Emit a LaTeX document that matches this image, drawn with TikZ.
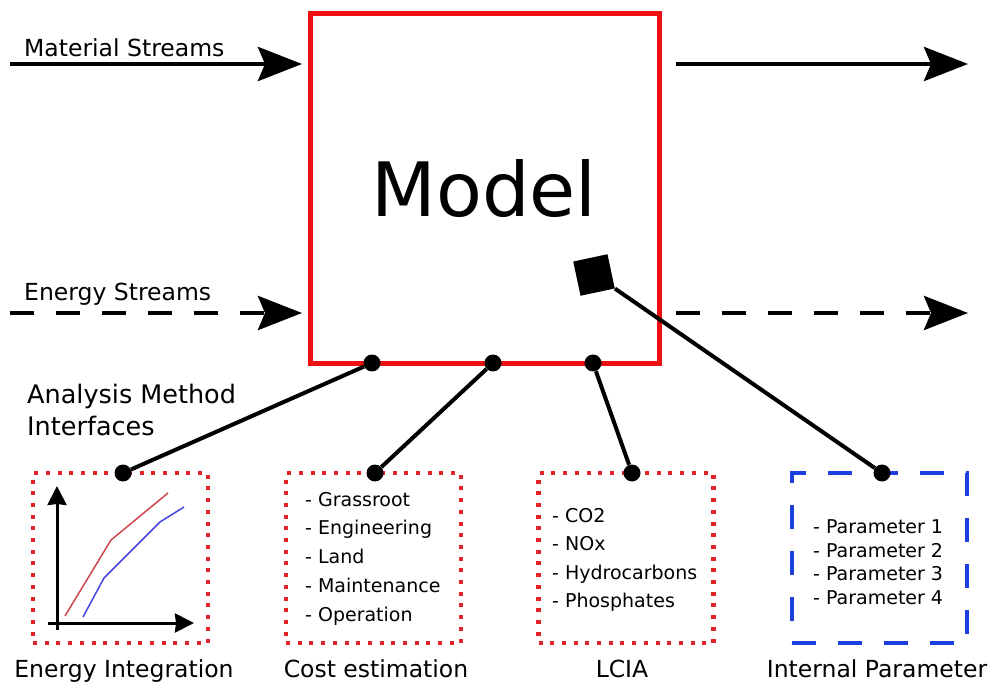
\documentclass[tikz,border=0pt]{standalone}
\usepackage{fontspec}
\setmainfont{DejaVu Sans}
\usetikzlibrary{arrows.meta}
\definecolor{modelred}{RGB}{236,16,16}
\definecolor{dotred}{RGB}{226,36,42}
\definecolor{parblue}{RGB}{28,64,222}
\definecolor{curvered}{RGB}{205,70,80}
\definecolor{curveblue}{RGB}{70,70,225}

\begin{document}
\begin{tikzpicture}[x=1pt,y=-1pt,
  flow/.style={line width=4.5pt,-{Stealth[length=44pt,width=34pt,inset=7pt]}},
  flowdash/.style={flow,dash pattern=on 24pt off 22pt},
  modelbox/.style={draw=modelred,line width=5pt,minimum width=349pt,minimum height=350pt,inner sep=0pt},
  dotbox/.style={draw=dotred,line width=4.5pt,dash pattern=on 4pt off 7.7pt,minimum width=175pt,minimum height=170pt,inner sep=0pt},
  parbox/.style={draw=parblue,line width=4pt,dash pattern=on 24pt off 22pt,minimum width=175pt,minimum height=170pt,inner sep=0pt},
  pin/.style={circle,fill=black,inner sep=0pt,minimum size=17pt},
  link/.style={line width=4pt},
  axis/.style={line width=3pt,-{Stealth[length=19pt,width=19pt,inset=1pt]}},
  curve/.style={line width=1.5pt},
  lbl/.style={inner sep=0pt,font=\fontsize{23.5}{27}\selectfont},
  item/.style={anchor=base west,inner sep=0pt,font=\fontsize{19}{22}\selectfont}
]
\useasboundingbox (0,0) rectangle (993,684);

% central model block
\node[modelbox] (model) at (484.5,188.5) {};
\node[anchor=base,inner sep=0pt,font=\fontsize{75}{80}\selectfont] (mtitle) at (484,217) {Model};

% material and energy streams
\coordinate (msin) at (10,64);
\coordinate (msend) at (302,64);
\coordinate (msout) at (676,64);
\coordinate (msoutend) at (968,64);
\coordinate (esin) at (10,313);
\coordinate (esend) at (302,313);
\coordinate (esout) at (676,313);
\coordinate (esoutend) at (968,313);
\draw[flow] (msin) -- (msend);
\draw[flow] (msout) -- (msoutend);
\draw[flowdash] (esin) -- (esend);
\draw[flowdash] (esout) -- (esoutend);
\node[lbl,anchor=base west] (mslbl) at (24,57) {Material Streams};
\node[lbl,anchor=base west] (eslbl) at (24,301) {Energy Streams};

\node[anchor=base west,inner sep=0pt,font=\fontsize{25.5}{32}\selectfont] (ami1) at (27,403) {Analysis Method};
\node[anchor=base west,inner sep=0pt,font=\fontsize{25.5}{32}\selectfont] (ami2) at (27,435) {Interfaces};

% interface pins on the model
\node[pin] (m1) at (372,363) {};
\node[pin] (m2) at (493,363) {};
\node[pin] (m3) at (593,363) {};
\node[rectangle,fill=black,minimum size=35pt,inner sep=0pt,rotate=12] (sq) at (594,275) {};

% method boxes
\node[dotbox] (ei) at (120.5,558) {};
\node[dotbox] (ce) at (373.5,558) {};
\node[dotbox] (lc) at (626,558) {};
\node[parbox] (ip) at (879.5,558) {};

\node[pin] (b1) at (123,473) {};
\node[pin] (b2) at (375,473) {};
\node[pin] (b3) at (632,473) {};
\node[pin] (b4) at (882,473) {};

\draw[link] (m1) -- (b1);
\draw[link] (m2) -- (b2);
\draw[link] (m3) -- (b3);
\draw[link] (sq.south east) -- (b4);

% energy integration chart
\coordinate (yfoot) at (57,630);
\coordinate (ytop) at (57,486);
\coordinate (xfoot) at (48,623);
\coordinate (xend) at (194,623);
\draw[axis] (yfoot) -- (ytop);
\draw[axis] (xfoot) -- (xend);
\draw[curve,curvered] (65,616) -- (111,540) -- (168,493);
\draw[curve,curveblue] (83,617) -- (104,578) -- (160,522) -- (184,507);

% box contents
\node[item] (c1) at (305,506) {- Grassroot};
\node[item] (c2) at (305,534) {- Engineering};
\node[item] (c3) at (305,563) {- Land};
\node[item] (c4) at (305,592) {- Maintenance};
\node[item] (c5) at (305,621) {- Operation};

\node[item] (l1) at (552,522) {- CO2};
\node[item] (l2) at (552,550) {- NOx};
\node[item] (l3) at (552,579) {- Hydrocarbons};
\node[item] (l4) at (552,607) {- Phosphates};

\node[item] (p1) at (813,533) {- Parameter 1};
\node[item] (p2) at (813,557) {- Parameter 2};
\node[item] (p3) at (813,580) {- Parameter 3};
\node[item] (p4) at (813,604) {- Parameter 4};

% box captions
\node[lbl,anchor=base] (eilbl) at (124,677) {Energy Integration};
\node[lbl,anchor=base] (celbl) at (376,677) {Cost estimation};
\node[lbl,anchor=base] (lclbl) at (622,677) {LCIA};
\node[lbl,anchor=base] (iplbl) at (877,677) {Internal Parameter};
\end{tikzpicture}
\end{document}
